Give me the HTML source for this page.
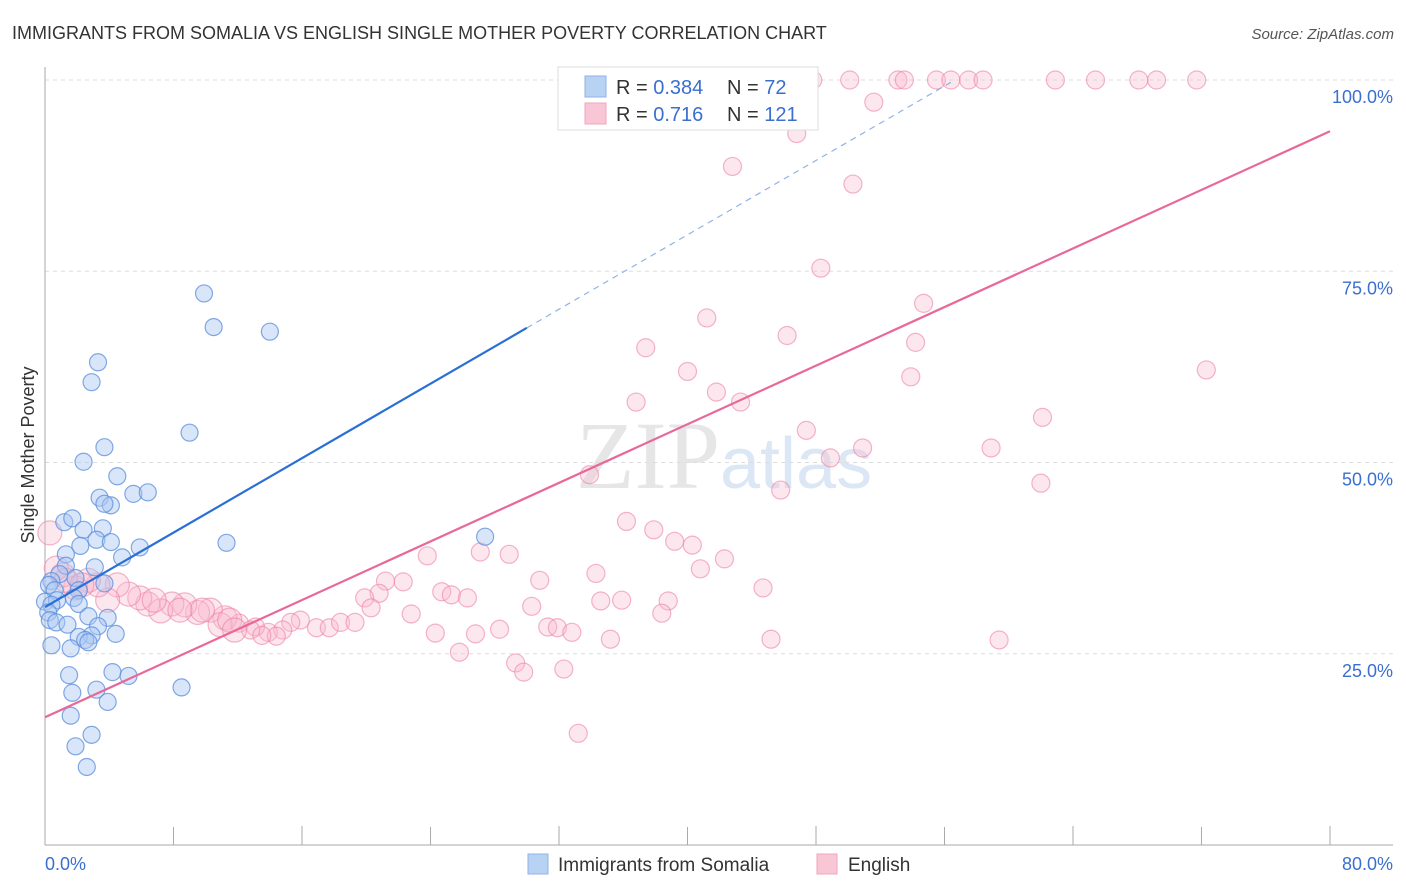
<!DOCTYPE html>
<html><head><meta charset="utf-8">
<style>
body{margin:0;background:#fff;font-family:"Liberation Sans",sans-serif;}
svg{display:block}
</style></head>
<body>
<svg id="chart" width="1406" height="892">
<text x="12" y="39" font-size="18" fill="#333">IMMIGRANTS FROM SOMALIA VS ENGLISH SINGLE MOTHER POVERTY CORRELATION CHART</text>
<text x="1394" y="39" font-size="15" fill="#555" font-style="italic" text-anchor="end">Source: ZipAtlas.com</text>
<text x="720" y="488" font-size="96" fill="#e6e6e6" text-anchor="end" font-family="Liberation Serif">ZIP</text>
<text x="720" y="488" font-size="72" fill="#dce7f5">atlas</text>
<g id="grid"></g>
<g id="axes"></g>
<g id="marks"></g>
<text transform="translate(34,455) rotate(-90)" font-size="18" fill="#333" text-anchor="middle">Single Mother Poverty</text>
<text x="45" y="870" font-size="18" fill="#3a6fd0">0.0%</text>
<text x="1393" y="870" font-size="18" fill="#3a6fd0" text-anchor="end">80.0%</text>
<g>
<rect x="558" y="67" width="260" height="63" fill="#fff" stroke="#ddd"/>
<rect x="585" y="76" width="21" height="21" fill="#b8d2f4" stroke="#8fb3e6"/>
<rect x="585" y="103" width="21" height="21" fill="#f9c6d6" stroke="#f0a6be"/>
<text x="616" y="94" font-size="20" fill="#333">R = <tspan fill="#3a6fd0">0.384</tspan></text>
<text x="727" y="94" font-size="20" fill="#333">N = <tspan fill="#3a6fd0"> 72</tspan></text>
<text x="616" y="121" font-size="20" fill="#333">R = <tspan fill="#3a6fd0"> 0.716</tspan></text>
<text x="727" y="121" font-size="20" fill="#333">N = <tspan fill="#3a6fd0">121</tspan></text>
</g>
<g>
<rect x="528" y="854" width="20" height="20" fill="#b8d2f4" stroke="#8fb3e6"/>
<text x="558" y="871" font-size="19" fill="#333">Immigrants from Somalia</text>
<rect x="817" y="854" width="20" height="20" fill="#f9c6d6" stroke="#f0a6be"/>
<text x="848" y="871" font-size="19" fill="#333">English</text>
</g>
</svg>
<script>
const yTicks=[25,50,75,100];
const yTickLabels=["25.0%","50.0%","75.0%","100.0%"];
const xTicks=[0,8,16,24,32,40,48,56,64,72,80];
const blueX=[9.9,10.5,14.0,3.3,2.9,9.0,3.7,2.4,4.5,3.4,5.5,6.4,4.1,3.7,1.2,1.7,2.4,3.6,3.2,2.2,4.1,5.9,11.3,1.3,4.8,1.3,3.1,0.9,0.4,1.9,0.25,3.7,2.1,0.6,1.8,0.0,0.75,0.4,2.1,0.2,2.7,3.9,0.3,0.7,3.3,1.4,2.9,2.1,2.5,4.4,2.7,0.4,1.6,1.5,4.2,5.2,1.7,3.2,8.5,3.9,1.6,2.9,1.9,2.6,27.4];
const blueY=[72.1,67.7,67.1,63.1,60.5,53.9,52.0,50.1,48.2,45.4,45.9,46.1,44.4,44.6,42.2,42.7,41.2,41.4,39.9,39.1,39.6,38.9,39.5,38.0,37.6,36.5,36.3,35.4,34.5,34.9,34.0,34.2,33.3,33.3,32.3,31.8,32.0,31.4,31.5,30.4,29.9,29.7,29.4,29.1,28.6,28.8,27.4,27.2,26.8,27.6,26.5,26.1,25.7,22.2,22.6,22.1,19.9,20.3,20.6,18.7,16.9,14.4,12.9,10.2,40.3];
const pinkX=[47.8,50.1,53.1,53.5,55.5,56.4,57.5,58.4,62.9,65.4,68.1,69.2,71.7,44.4,51.6,46.8,42.8,50.3,48.3,54.7,41.2,46.2,37.4,54.2,40.0,53.9,72.3,41.8,43.3,36.8,62.1,47.4,50.9,48.9,58.9,33.9,45.8,62.0,36.2,37.9,39.2,40.3,27.1,28.9,42.3,23.8,40.8,34.3,30.8,44.7,22.3,21.2,24.7,25.3,20.8,26.3,19.9,34.6,35.9,38.8,30.3,20.3,38.4,22.8,24.3,26.8,28.3,31.3,31.9,32.8,35.2,45.2,59.4,25.8,29.3,29.8,32.3,33.2,15.9,16.9,15.3,17.7,18.4,19.3,14.8,13.9,14.4,13.1,12.1,12.8,11.2,10.3,9.5,8.7,7.9,7.2,6.4,5.9,5.2,4.5,3.9,3.3,2.7,1.9,1.1,0.3,0.7,1.3,2.3,9.8,10.9,11.5,13.5,8.4,6.8,11.8];
const pinkY=[100,100,100,100,100,100,100,100,100,100,100,100,100,100,97.1,93.0,88.7,86.4,75.4,70.8,68.9,66.6,65.0,65.7,61.9,61.2,62.1,59.2,57.9,57.9,55.9,54.2,51.9,50.6,51.9,48.4,46.4,47.3,42.3,41.2,39.7,39.2,38.3,38.0,37.4,37.8,36.1,35.5,34.6,33.6,34.4,34.5,33.1,32.7,32.9,32.3,32.3,31.9,32.0,31.9,31.2,31.0,30.3,30.2,27.7,27.6,28.2,28.5,28.4,27.8,26.9,26.9,26.8,25.2,23.8,22.6,23.0,14.6,29.4,28.4,29.1,28.4,29.1,29.1,28.1,27.8,27.3,28.5,29.0,28.1,29.7,30.7,30.4,31.4,31.5,30.6,31.5,32.3,32.8,34.0,32.0,34.0,34.6,33.6,35.3,40.8,36.2,34.6,34.0,30.7,28.8,29.4,27.4,30.7,32.0,28.1];
const blueLine=[0,31.1,30,67.6,56.4,99.7];
const pinkLine=[0,16.7,80,93.3];

const NS="http://www.w3.org/2000/svg";
const X=v=>45+v*(1330-45)/80;
const Y=v=>845-v*(845-80)/100;
function mk(tag,attrs,parent){const e=document.createElementNS(NS,tag);for(const k in attrs)e.setAttribute(k,attrs[k]);parent.appendChild(e);return e;}
const grid=document.getElementById('grid'),axes=document.getElementById('axes'),marks=document.getElementById('marks');
yTicks.forEach((t,i)=>{
  const l=mk('line',{x1:45,x2:1393,y1:Y(t),y2:Y(t),stroke:'#ddd','stroke-dasharray':'4,4'},grid);
  
  
  const tx=mk('text',{x:1393,y:Y(t)+23,'font-size':18,fill:'#3a6fd0','text-anchor':'end'},grid);
  tx.textContent=yTickLabels[i];
  
  
});
let a=mk('line',{x1:45,x2:45,y1:67,y2:845,stroke:'#aaa'},axes);


a=mk('line',{x1:45,x2:1393,y1:845,y2:845,stroke:'#aaa'},axes);


xTicks.forEach((t,i)=>{
  const l=mk('line',{x1:X(t),x2:X(t),y1:845,y2:(i%2==0?826:827),stroke:'#aaa'},axes);
  
  
});
pinkX.forEach((v,i)=>{
  const r=(v<12&&pinkY[i]<42)?12:9;
  const c=mk('circle',{cx:X(v),cy:Y(pinkY[i]),r:r,fill:'rgba(248,185,205,0.35)',stroke:'rgba(236,130,165,0.6)','stroke-width':1.2},marks);
  
  
});
blueX.forEach((v,i)=>{
  const c=mk('circle',{cx:X(v),cy:Y(blueY[i]),r:8.5,fill:'rgba(170,200,242,0.45)',stroke:'rgba(90,140,220,0.75)','stroke-width':1.2},marks);
  
  
});
let ln=mk('line',{x1:X(pinkLine[0]),y1:Y(pinkLine[1]),x2:X(pinkLine[2]),y2:Y(pinkLine[3]),stroke:'#e8689a','stroke-width':2.2},marks);


ln=mk('line',{x1:X(blueLine[0]),y1:Y(blueLine[1]),x2:X(blueLine[2]),y2:Y(blueLine[3]),stroke:'#2a6fd6','stroke-width':2.2},marks);


ln=mk('line',{x1:X(blueLine[2]),y1:Y(blueLine[3]),x2:X(blueLine[4]),y2:Y(blueLine[5]),stroke:'#8fb3e6','stroke-width':1.2,'stroke-dasharray':'6,5'},marks);


</script>
</body></html>
